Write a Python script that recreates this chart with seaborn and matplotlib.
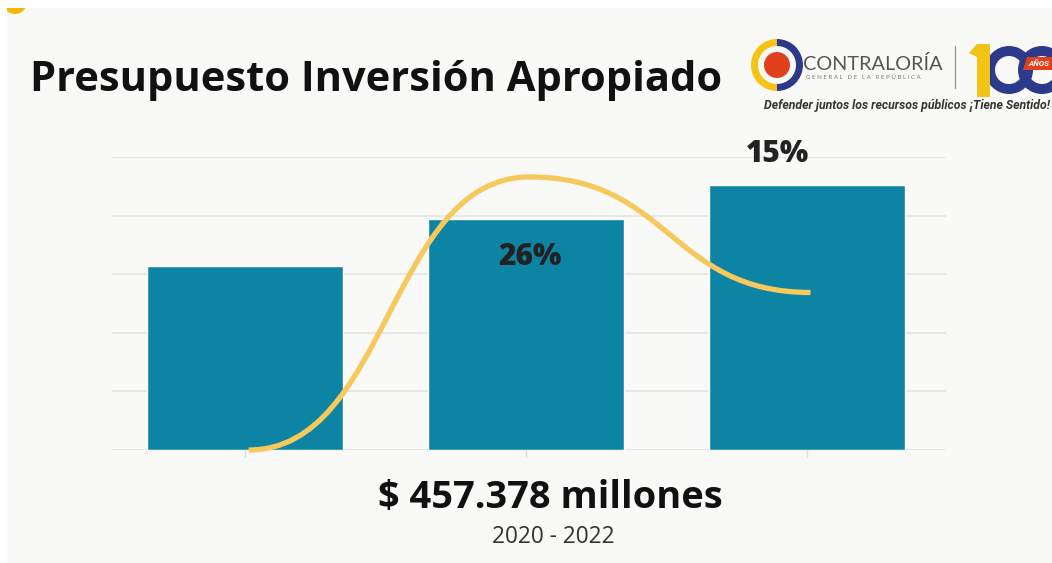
import numpy as np
import pandas as pd
import matplotlib
matplotlib.use("Agg")
import matplotlib.pyplot as plt
import seaborn as sns
from matplotlib.path import Path
from matplotlib.patches import PathPatch, Rectangle, Circle, Wedge, Polygon

# ---------------- data ----------------
years = ["2020", "2021", "2022"]
budget = [125600, 157700, 180900]          # millones
growth = [0, 26, 15]                        # % variation (line)
growth_labels = ["", "26%", "15%"]
title = "Presupuesto Inversión Apropiado"
total_text = "$ 457.378 millones"
period_text = "2020 - 2022"

BAR = "#0e84a5"
LINE = "#f7c85c"
GRID = "#e6e6e4"
PANEL = "#f9f9f7"

sns.set_theme(style="white")
plt.rcParams["font.family"] = ["Open Sans", "DejaVu Sans"]

W, H = 1052, 563
fig = plt.figure(figsize=(W / 100, H / 100), dpi=100, facecolor="white")

# background / decoration axes in pixel coordinates
bg = fig.add_axes([0, 0, 1, 1])
bg.set_xlim(0, W)
bg.set_ylim(H, 0)
bg.axis("off")
bg.set_zorder(-10)
panel = Rectangle((7, 8), W, H, facecolor=PANEL, edgecolor="none")
bg.add_patch(panel)
dot = Circle((15, 2), 12, facecolor="#f5b800", edgecolor="none")
bg.add_patch(dot)
dot.set_clip_path(panel)

# ---------------- main chart ----------------
left, right, top, bottom = 112, 946, 157, 450
ax = fig.add_axes([left / W, (H - bottom) / H, (right - left) / W, (bottom - top) / H])
ax.set_facecolor("none")
df = pd.DataFrame({"year": years, "budget": budget})
sns.barplot(data=df, x="year", y="budget", color=BAR, width=0.7, saturation=1,
            ax=ax, zorder=3)
ax.set_xlim(-0.473, 2.495)
ax.set_ylim(0, 200000)
ax.set_yticks(np.arange(0, 200001, 40000))
ax.grid(axis="y", color=GRID, lw=1.3, zorder=0)
ax.set_axisbelow(True)
ax.set_xticks([0, 1, 2])
ax.set_xticklabels([])
ax.set_yticklabels([])
ax.set_xlabel("")
ax.set_ylabel("")
ax.tick_params(axis="x", length=5, color="#dddddd", width=1, bottom=True)
ax.tick_params(axis="y", length=0)
for s in ax.spines.values():
    s.set_visible(False)

ax2 = ax.twinx()
ax2.set_ylim(0, 27.9)
ax2.axis("off")
xs = np.arange(len(growth), dtype=float) + 0.013
verts = [(xs[0], growth[0])]
codes = [Path.MOVETO]
for i in range(len(xs) - 1):
    xm = (xs[i] + xs[i + 1]) / 2
    verts += [(xm, growth[i]), (xm, growth[i + 1]), (xs[i + 1], growth[i + 1])]
    codes += [Path.CURVE4] * 3
curve = PathPatch(Path(verts, codes), facecolor="none", edgecolor=LINE, lw=3.8,
                  capstyle="butt", zorder=5, clip_on=False)
ax2.add_patch(curve)

offsets = [(0, 0), (0, -80), (-33, 138)]
for i, lab in enumerate(growth_labels):
    if lab:
        ax2.annotate(lab, (xs[i], growth[i]), xytext=offsets[i], textcoords="offset pixels",
                     ha="center", va="center", fontsize=21.5, fontweight="heavy",
                     color="#222222", zorder=6)

# ---------------- texts ----------------
bg.text(30, 91, title, fontsize=30, fontweight="bold", color="#111111",
        ha="left", va="baseline")
fig.text(550 / W, 1 - 508 / H, total_text, fontsize=27.4, fontweight="bold",
         color="#111111", ha="center", va="baseline")
fig.text(553 / W, 1 - 543 / H, period_text, fontsize=16.3, color="#333333",
         ha="center", va="baseline")

# ---------------- logo ----------------
cx, cy = 777, 65
bg.add_patch(Wedge((cx, cy), 26, 90, 270, width=7, facecolor="#f3c316", edgecolor="none"))
bg.add_patch(Wedge((cx, cy), 26, -90, 90, width=7, facecolor="#2d3a8c", edgecolor="none"))
bg.add_patch(Circle((cx, cy), 13, facecolor="#e0401c", edgecolor="none"))
bg.text(803, 64, "CONTRALORÍA", fontsize=14.3, color="#555555", ha="left", va="center",
        family=["Lato", "DejaVu Sans"])
bg.text(806, 77, "G E N E R A L   D E   L A   R E P Ú B L I C A", fontsize=4.4,
        color="#777777", ha="left", va="center", family=["Lato", "DejaVu Sans"])
bg.plot([955, 955], [46, 88], color="#9a9a9a", lw=1)
bg.add_patch(Wedge((1009, 70), 24, 0, 360, width=10, facecolor="#2d3a8c", edgecolor="none"))
bg.add_patch(Wedge((1042, 70), 24, 0, 360, width=10, facecolor="#2d3a8c", edgecolor="none"))
bg.add_patch(Polygon([(969, 53), (977, 44), (990, 44), (990, 97), (977, 97), (977, 57)],
                     closed=True, facecolor="#f3c316", edgecolor="none"))
bg.add_patch(Polygon([(1023, 70), (1027, 57), (1056, 57), (1052, 70)], closed=True,
                     facecolor="#e0401c", edgecolor="none"))
bg.text(1039, 63.5, "AÑOS", fontsize=5.8, fontweight="bold", fontstyle="italic",
        color="white", ha="center", va="center", family=["Roboto", "DejaVu Sans"])
bg.text(1050, 106, "Defender juntos los recursos públicos ¡Tiene Sentido!", fontsize=8.8,
        fontweight="bold", fontstyle="italic", color="#333333", ha="right", va="center",
        family=["Roboto", "DejaVu Sans"])

fig.savefig("out.png", dpi=100, facecolor="white")
